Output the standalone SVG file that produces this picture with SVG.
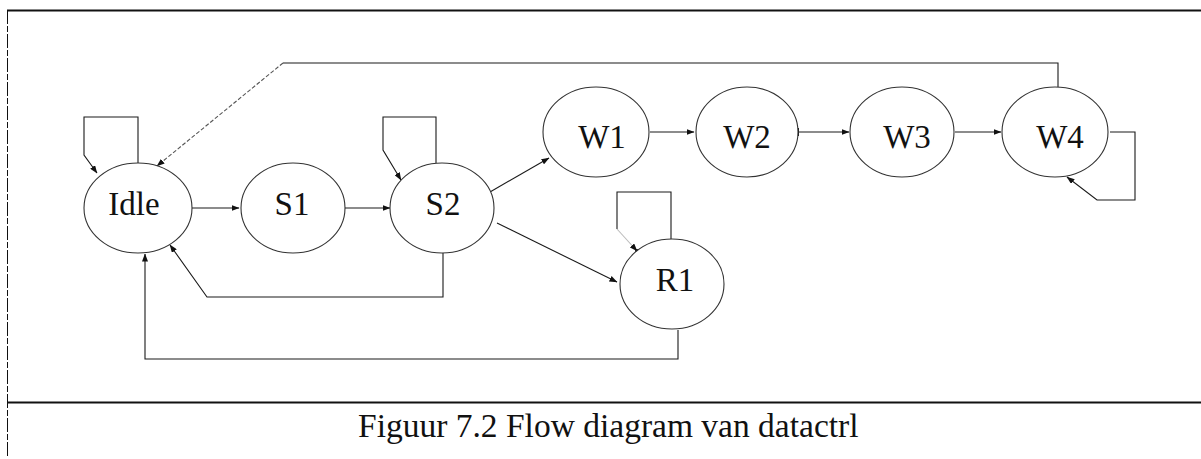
<svg xmlns="http://www.w3.org/2000/svg" width="1201" height="459" viewBox="0 0 1201 459">
  <style>
    .frame { stroke: #111; fill: none; }
    .state { fill: #fff; stroke: #333; stroke-width: 1.1; }
    .label { font-family: "Liberation Serif", "Times New Roman", serif; font-size: 33px; fill: #111; text-anchor: middle; }
    .caption { font-family: "Liberation Serif", "Times New Roman", serif; font-size: 33.5px; fill: #111; }
    .line { fill: none; stroke: #1a1a1a; stroke-width: 1.1; }
    .edge { fill: none; stroke: #1a1a1a; stroke-width: 1.1; marker-end: url(#arrow); }
    .dotted { stroke: #555; stroke-dasharray: 4 2; }
    .faint { stroke: #bbb; }
  </style>
  <defs>
    <marker id="arrow" markerUnits="userSpaceOnUse" markerWidth="8" markerHeight="6" refX="7.5" refY="3" orient="auto">
      <path d="M0,0 L8,3 L0,6 z" fill="#111"/>
    </marker>
  </defs>

  <rect width="1201" height="459" fill="#fff"/>

  <!-- figure frame -->
  <g id="frame">
    <line class="frame" x1="7" y1="10.5" x2="1201" y2="10.5" stroke-width="2"/>
    <line class="frame" x1="7.5" y1="10" x2="7.5" y2="458" stroke-width="1" stroke-dasharray="14 2 6 2"/>
    <line class="frame" x1="7" y1="402.5" x2="1201" y2="402.5" stroke-width="2"/>
  </g>

  <!-- transitions -->
  <g id="connectors">
    <path class="edge" d="M138,163 V117 H84 V155 L97,173"/>
    <path class="line" d="M1058,87 V63 H283"/>
    <path class="edge dotted" d="M283,63 L157,166"/>
    <path class="edge" d="M192,208 H239"/>
    <path class="edge" d="M345,208 H390"/>
    <path class="edge" d="M436,163 V117 H383 V150 L401,180"/>
    <path class="edge" d="M490,192 L549,158"/>
    <path class="edge" d="M497,223 L617,282"/>
    <path class="edge" d="M443,253 V297 H207 L170,245"/>
    <path class="edge" d="M678,330 V359 H145 V254"/>
    <path class="line" d="M671,239 V192 H617 V229"/>
    <path class="edge faint" d="M617,229 L637,251"/>
    <circle cx="637" cy="251" r="2" fill="#111"/>
    <path class="edge" d="M650,132 H694"/>
    <path class="edge" d="M798,132 H849"/>
    <line x1="798.5" y1="128" x2="798.5" y2="136" stroke="#1a1a1a" stroke-width="1"/>
    <path class="edge" d="M955,132 H1001"/>
    <path class="edge" d="M1110,132 H1135 V200 H1097 L1067,177"/>
  </g>

  <!-- states -->
  <g id="node-idle">
    <ellipse class="state" cx="138" cy="208" rx="54" ry="45"/>
    <text class="label" x="134" y="215">Idle</text>
  </g>
  <g id="node-s1">
    <ellipse class="state" cx="293" cy="208" rx="52" ry="45"/>
    <text class="label" x="292" y="215">S1</text>
  </g>
  <g id="node-s2">
    <ellipse class="state" cx="442" cy="208" rx="52" ry="45"/>
    <text class="label" x="443" y="215">S2</text>
  </g>
  <g id="node-w1">
    <ellipse class="state" cx="596" cy="132" rx="53" ry="45"/>
    <text class="label" x="602" y="148">W1</text>
  </g>
  <g id="node-w2">
    <ellipse class="state" cx="747" cy="132" rx="51" ry="45"/>
    <text class="label" x="747" y="148">W2</text>
  </g>
  <g id="node-w3">
    <ellipse class="state" cx="902" cy="132" rx="52" ry="45"/>
    <text class="label" x="907" y="148">W3</text>
  </g>
  <g id="node-w4">
    <ellipse class="state" cx="1055" cy="132" rx="53" ry="45"/>
    <text class="label" x="1060" y="148">W4</text>
  </g>
  <g id="node-r1">
    <ellipse class="state" cx="672" cy="284" rx="52" ry="45"/>
    <text class="label" x="675" y="291">R1</text>
  </g>

  <text class="caption" x="358" y="437">Figuur 7.2 Flow diagram van datactrl</text>
</svg>
